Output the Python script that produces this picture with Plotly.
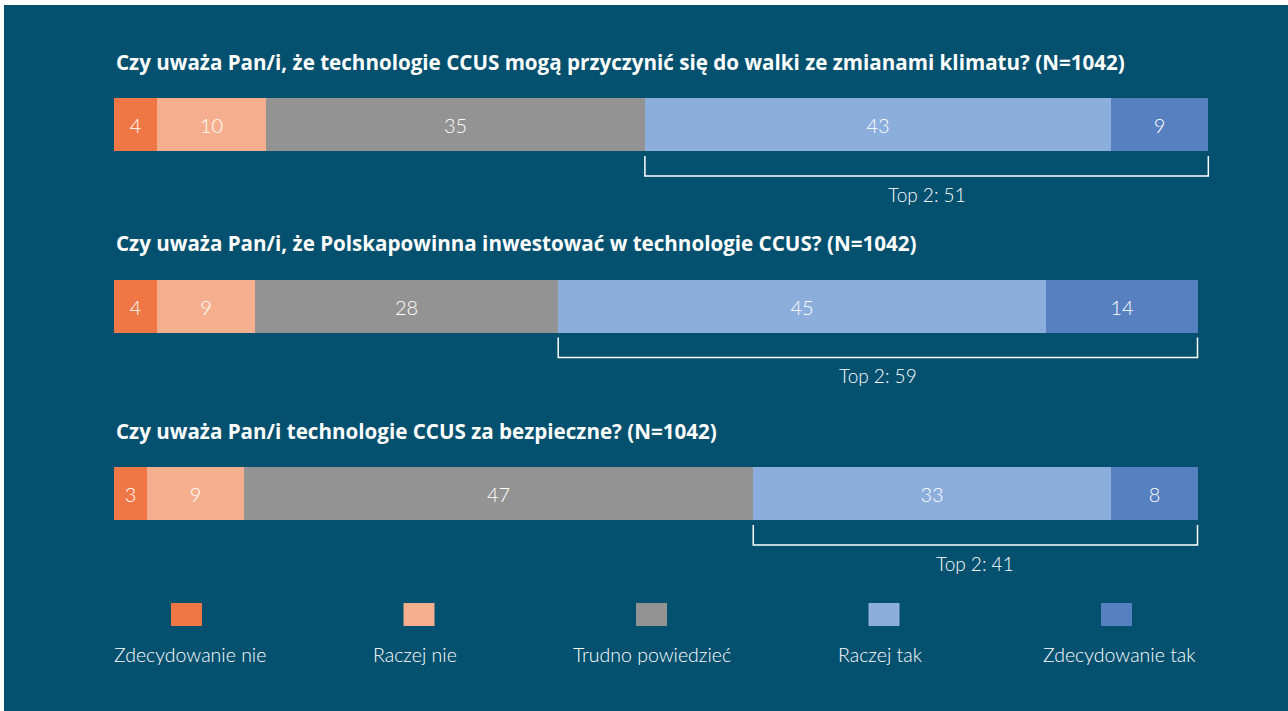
"""Badanie opinii o technologiach CCUS – skumulowane słupki poziome."""
import plotly.graph_objects as go

# --- dane ---
questions = [
    "Czy uważa Pan/i, że technologie CCUS mogą przyczynić się do walki ze zmianami klimatu? (N=1042)",
    "Czy uważa Pan/i, że Polskapowinna inwestować w technologie CCUS? (N=1042)",
    "Czy uważa Pan/i technologie CCUS za bezpieczne? (N=1042)",
]
answers = ["Zdecydowanie nie", "Raczej nie", "Trudno powiedzieć", "Raczej tak", "Zdecydowanie tak"]
zdecydowanie_nie = [4, 4, 3]
raczej_nie = [10, 9, 9]
trudno_powiedziec = [35, 28, 47]
raczej_tak = [43, 45, 33]
zdecydowanie_tak = [9, 14, 8]
top2 = [51, 59, 41]

series = [zdecydowanie_nie, raczej_nie, trudno_powiedziec, raczej_tak, zdecydowanie_tak]
colors = ["#ef7645", "#f6af8e", "#939393", "#8caedc", "#5780c0"]

BG = "#03506f"
W, H = 1288, 711
L, R = 114, 58
PW = W - L - R
FONT = "Lato"
TITLE_FONT = "Open Sans"

# wiersze w pikselach od góry (oś y odwrócona, 1 jednostka = 1 px)
row_y = [124.5, 306, 493.5]
BAR_H = 53


def px(x):
    return (x - L) / PW


fig = go.Figure()

for vals, name, color in zip(series, answers, colors):
    fig.add_trace(go.Bar(
        y=row_y, x=vals, orientation="h", name=name, width=BAR_H,
        marker=dict(color=color, line=dict(width=0)),
        text=[str(v) for v in vals], textposition="inside",
        insidetextanchor="middle", constraintext="none",
        textfont=dict(color="white", size=20, family=FONT, weight=300),
        showlegend=False, hoverinfo="x+name",
    ))

shapes = []
annotations = []
for i, q in enumerate(questions):
    yc = row_y[i]
    annotations.append(dict(
        x=0, xref="paper", y=yc - 63, yref="y", text=q,
        showarrow=False, xanchor="left", yanchor="middle",
        font=dict(color="white", size=20.6, family=TITLE_FONT, weight=700),
    ))
    x0 = zdecydowanie_nie[i] + raczej_nie[i] + trudno_powiedziec[i]
    x1 = x0 + raczej_tak[i] + zdecydowanie_tak[i]
    yt = yc + BAR_H / 2 + 5
    yb = yt + 20
    shapes.append(dict(
        type="path", xref="x", yref="y",
        path=f"M {x0},{yt} L {x0},{yb} L {x1},{yb} L {x1},{yt}",
        line=dict(color="white", width=1.5),
    ))
    annotations.append(dict(
        x=(x0 + x1) / 2, xref="x", y=yb + 18, yref="y", text=f"Top 2: {top2[i]}",
        showarrow=False, xanchor="center", yanchor="middle",
        font=dict(color="white", size=19, family=FONT, weight=300),
    ))

# legenda: kwadrat nad etykietą
sq_x = [186.5, 419, 651.5, 884, 1116.5]
lab_x = [190, 415, 652, 880, 1119.5]
for name, color, sx, lx in zip(answers, colors, sq_x, lab_x):
    shapes.append(dict(
        type="rect", xref="paper", yref="y",
        x0=px(sx - 15.5), x1=px(sx + 15.5), y0=603, y1=626,
        fillcolor=color, line=dict(width=0),
    ))
    annotations.append(dict(
        x=px(lx), xref="paper", y=654, yref="y", text=name,
        showarrow=False, xanchor="center", yanchor="middle",
        font=dict(color="white", size=19.5, family=FONT, weight=300),
    ))

# białe paski przy górnej i lewej krawędzi
shapes.append(dict(type="rect", xref="paper", yref="paper", x0=px(-10), x1=px(W + 10),
                   y0=(H - 5) / H, y1=1.05, fillcolor="white", line=dict(width=0), layer="above"))
shapes.append(dict(type="rect", xref="paper", yref="paper", x0=px(-10), x1=px(4),
                   y0=-0.05, y1=1.05, fillcolor="white", line=dict(width=0), layer="above"))

fig.update_layout(
    width=W, height=H, barmode="stack", bargap=0,
    margin=dict(l=L, r=R, t=0, b=0),
    paper_bgcolor=BG, plot_bgcolor=BG,
    shapes=shapes, annotations=annotations,
    font=dict(family=FONT, color="white"),
)
fig.update_xaxes(range=[0, 103], visible=False, fixedrange=True)
fig.update_yaxes(range=[H, 0], visible=False, fixedrange=True)

fig.write_html("out.html", config={"displayModeBar": False},
               post_script="document.body.style.margin='0';")
